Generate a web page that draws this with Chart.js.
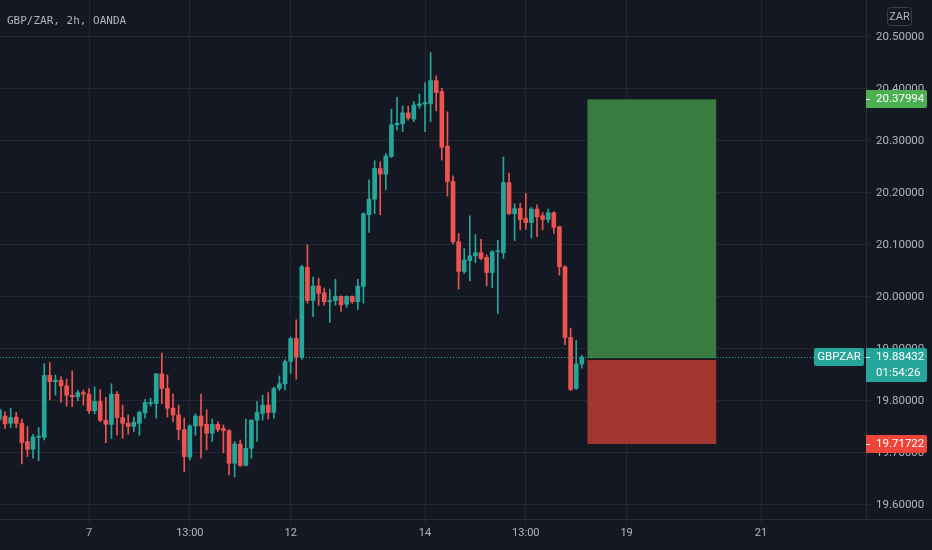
<!DOCTYPE html>
<html>
<head>
<meta charset="UTF-8" />
<title>GBP/ZAR, 2h, OANDA</title>
<script src="https://cdn.jsdelivr.net/npm/chart.js"></script>
<style>
  html, body { margin: 0; padding: 0; background: #141823; }
  canvas { display: block; }
</style>
</head>
<body>
<canvas id="chart" width="932" height="550"></canvas>
<script>
// 2h candles (index 0 = leftmost bar)
const opens = [
  19.765, 19.771, 19.757, 19.769, 19.757, 19.722, 19.707, 19.730, 19.730, 19.849,
  19.837, 19.840, 19.829, 19.811, 19.808, 19.816, 19.813, 19.781, 19.799, 19.763,
  19.755, 19.813, 19.768, 19.757, 19.751, 19.757, 19.777, 19.795, 19.795, 19.852,
  19.824, 19.786, 19.773, 19.745, 19.692, 19.752, 19.771, 19.755, 19.738, 19.755,
  19.747, 19.743, 19.680, 19.717, 19.676, 19.709, 19.763, 19.776, 19.792, 19.778,
  19.824, 19.833, 19.876, 19.920, 19.885, 20.057, 19.993, 20.021, 20.008, 19.991,
  19.993, 20.001, 19.986, 20.001, 19.991, 20.020, 20.158, 20.188, 20.247, 20.236,
  20.270, 20.331, 20.333, 20.354, 20.342, 20.368, 20.371, 20.372, 20.416, 20.395,
  20.290, 20.222, 20.106, 20.049, 20.070, 20.079, 20.085, 20.076, 20.047, 20.087,
  20.085, 20.220, 20.160, 20.170, 20.151, 20.143, 20.169, 20.156, 20.149, 20.162,
  20.135, 20.058, 19.922, 19.824, 19.871
];
const highs = [
  19.787, 19.779, 19.786, 19.778, 19.765, 19.751, 19.736, 19.749, 19.872, 19.874,
  19.850, 19.847, 19.842, 19.858, 19.821, 19.821, 19.824, 19.827, 19.822, 19.807,
  19.833, 19.818, 19.792, 19.773, 19.769, 19.781, 19.803, 19.805, 19.853, 19.892,
  19.850, 19.813, 19.792, 19.767, 19.754, 19.775, 19.813, 19.783, 19.765, 19.760,
  19.754, 19.745, 19.722, 19.725, 19.765, 19.764, 19.799, 19.811, 19.816, 19.827,
  19.848, 19.879, 19.923, 19.956, 20.061, 20.100, 20.038, 20.036, 20.017, 20.015,
  20.034, 20.002, 20.002, 20.002, 20.034, 20.162, 20.225, 20.262, 20.260, 20.276,
  20.361, 20.384, 20.367, 20.367, 20.376, 20.390, 20.412, 20.470, 20.425, 20.401,
  20.356, 20.233, 20.122, 20.093, 20.156, 20.120, 20.111, 20.081, 20.089, 20.109,
  20.269, 20.238, 20.179, 20.180, 20.199, 20.172, 20.177, 20.162, 20.169, 20.164,
  20.136, 20.060, 19.940, 19.916, 19.888
];
const lows = [
  19.760, 19.747, 19.749, 19.749, 19.679, 19.693, 19.690, 19.685, 19.725, 19.802,
  19.811, 19.797, 19.790, 19.789, 19.800, 19.792, 19.776, 19.775, 19.760, 19.720,
  19.728, 19.734, 19.728, 19.736, 19.741, 19.734, 19.767, 19.790, 19.767, 19.795,
  19.769, 19.760, 19.725, 19.664, 19.686, 19.734, 19.690, 19.706, 19.722, 19.741,
  19.700, 19.658, 19.654, 19.674, 19.675, 19.690, 19.722, 19.763, 19.765, 19.767,
  19.820, 19.821, 19.853, 19.842, 19.880, 19.988, 19.962, 19.984, 19.984, 19.951,
  19.984, 19.972, 19.980, 19.988, 19.976, 19.988, 20.124, 20.160, 20.158, 20.206,
  20.268, 20.321, 20.318, 20.340, 20.337, 20.363, 20.318, 20.337, 20.358, 20.263,
  20.194, 20.102, 20.015, 20.045, 20.031, 20.066, 20.071, 20.021, 20.018, 19.968,
  20.074, 20.158, 20.108, 20.129, 20.130, 20.113, 20.116, 20.129, 20.143, 20.122,
  20.042, 19.908, 19.820, 19.822, 19.863
];
const closes = [
  19.783, 19.756, 19.768, 19.757, 19.720, 19.707, 19.731, 19.732, 19.849, 19.837,
  19.840, 19.829, 19.811, 19.808, 19.816, 19.813, 19.781, 19.799, 19.763, 19.755,
  19.813, 19.768, 19.757, 19.751, 19.759, 19.778, 19.797, 19.797, 19.852, 19.824,
  19.786, 19.773, 19.745, 19.693, 19.752, 19.771, 19.752, 19.738, 19.755, 19.745,
  19.743, 19.680, 19.717, 19.676, 19.709, 19.763, 19.778, 19.792, 19.778, 19.824,
  19.833, 19.876, 19.920, 19.885, 20.058, 19.993, 20.021, 20.007, 19.991, 19.993,
  20.001, 19.985, 20.001, 19.991, 20.021, 20.160, 20.188, 20.247, 20.236, 20.271,
  20.331, 20.334, 20.354, 20.344, 20.369, 20.371, 20.374, 20.416, 20.393, 20.288,
  20.222, 20.106, 20.049, 20.071, 20.079, 20.085, 20.074, 20.047, 20.087, 20.088,
  20.220, 20.160, 20.170, 20.149, 20.143, 20.169, 20.154, 20.149, 20.162, 20.134,
  20.058, 19.922, 19.822, 19.871, 19.88432
];

// time axis labels and the bar index they sit on
const tickIndex = [16, 34, 52, 76, 94, 112, 136];
const tickLabels = ['7', '13:00', '12', '14', '13:00', '19', '21'];
const priceTicks = [19.6, 19.7, 19.8, 19.9, 20.0, 20.1, 20.2, 20.3, 20.4, 20.5];

// long position tool
const positionStart = 105;
const positionEnd = 128;
const entryPrice = 19.8805;
const targetPrice = 20.37994;
const stopPrice = 19.71722;
const countdown = '01:54:26';

const UP = '#26a69a';
const DOWN = '#ef5350';
const BG = '#141823';
const GRID = '#232732';
const TEXT = '#b2b5be';
const FONT = 'Roboto, "Noto Sans", sans-serif';

const colors = closes.map((c, i) => (c >= opens[i] ? UP : DOWN));
const wicks = closes.map((c, i) => ({ x: i, y: [lows[i], highs[i]] }));
const bodies = closes.map((c, i) => ({ x: i, y: [opens[i], c] }));

const overlay = {
  id: 'overlay',
  beforeDraw(chart) {
    const { ctx, width, height } = chart;
    ctx.save();
    ctx.fillStyle = BG;
    ctx.fillRect(0, 0, width, height);
    ctx.restore();
  },
  beforeDatasetsDraw(chart) {
    const { ctx, scales: { x, y } } = chart;
    const x0 = x.getPixelForValue(positionStart);
    const x1 = x.getPixelForValue(positionEnd);
    const yT = y.getPixelForValue(targetPrice);
    const yE = y.getPixelForValue(entryPrice);
    const yS = y.getPixelForValue(stopPrice);
    ctx.save();
    ctx.fillStyle = '#3a7b41';
    ctx.fillRect(x0, yT, x1 - x0, yE - yT);
    ctx.fillStyle = '#a3352f';
    ctx.fillRect(x0, yE, x1 - x0, yS - yE);
    ctx.strokeStyle = '#0a0c10';
    ctx.lineWidth = 1.5;
    ctx.beginPath();
    ctx.moveTo(x0, yE);
    ctx.lineTo(x1, yE);
    ctx.stroke();
    ctx.restore();
  },
  afterDatasetsDraw(chart) {
    const { ctx, chartArea, scales: { y } } = chart;
    const yl = Math.round(y.getPixelForValue(closes[closes.length - 1])) + 0.5;
    ctx.save();
    ctx.strokeStyle = UP;
    ctx.lineWidth = 1;
    ctx.setLineDash([1, 2]);
    ctx.beginPath();
    ctx.moveTo(chartArea.left, yl);
    ctx.lineTo(chartArea.right, yl);
    ctx.stroke();
    ctx.restore();
  },
  afterDraw(chart) {
    const { ctx, chartArea, width, scales: { y } } = chart;
    const left = chartArea.right;
    const right = left + 61;
    ctx.save();

    // bottom separator runs under the price scale too
    ctx.strokeStyle = '#2a2e39';
    ctx.lineWidth = 1;
    ctx.beginPath();
    ctx.moveTo(left, chartArea.bottom + 0.5);
    ctx.lineTo(width, chartArea.bottom + 0.5);
    ctx.stroke();

    function badge(yc, bg, lines) {
      const h = lines.length === 1 ? 18 : 34;
      const top = Math.round(yc - 9);
      ctx.fillStyle = bg;
      ctx.beginPath();
      ctx.roundRect(left, top, right - left, h, [0, 2, 2, 0]);
      ctx.fill();
      ctx.strokeStyle = '#ffffff';
      ctx.lineWidth = 1;
      ctx.beginPath();
      ctx.moveTo(left, top + 9.5);
      ctx.lineTo(left + 4, top + 9.5);
      ctx.stroke();
      ctx.fillStyle = '#ffffff';
      ctx.font = '11.5px ' + FONT;
      ctx.textAlign = 'left';
      ctx.textBaseline = 'middle';
      lines.forEach((t, k) => ctx.fillText(t, left + 10, top + 9.5 + k * 15.5));
    }

    const last = closes[closes.length - 1];
    badge(y.getPixelForValue(targetPrice), '#4caf50', [targetPrice.toFixed(5)]);
    badge(y.getPixelForValue(stopPrice), '#f0453b', [stopPrice.toFixed(5)]);
    const yLast = y.getPixelForValue(last);
    badge(yLast, UP, [last.toFixed(5), countdown]);

    // symbol tag left of the price scale
    ctx.fillStyle = UP;
    ctx.beginPath();
    ctx.roundRect(814, Math.round(yLast - 9), 50, 18, 2);
    ctx.fill();
    ctx.fillStyle = '#ffffff';
    ctx.font = '11.5px ' + FONT;
    ctx.textAlign = 'center';
    ctx.textBaseline = 'middle';
    ctx.fillText('GBPZAR', 839, Math.round(yLast) + 0.5);

    // currency button
    ctx.strokeStyle = '#3a3e4a';
    ctx.lineWidth = 1;
    ctx.beginPath();
    ctx.roundRect(887.5, 7.5, 24, 18, 3);
    ctx.stroke();
    ctx.fillStyle = TEXT;
    ctx.font = '11px ' + FONT;
    ctx.fillText('ZAR', 899.5, 17);

    // title
    ctx.fillStyle = TEXT;
    ctx.font = '11px "DejaVu Sans Mono", monospace';
    ctx.textAlign = 'left';
    ctx.fillText('GBP/ZAR, 2h, OANDA', 7, 21);
    ctx.restore();
  }
};

new Chart(document.getElementById('chart'), {
  type: 'bar',
  data: {
    datasets: [
      {
        label: 'bodies',
        data: bodies,
        backgroundColor: colors,
        barThickness: 4,
        minBarLength: 1,
        grouped: false,
        order: 0
      },
      {
        label: 'wicks',
        data: wicks,
        backgroundColor: colors,
        barThickness: 1,
        minBarLength: 1,
        grouped: false,
        order: 1
      }
    ]
  },
  options: {
    responsive: false,
    animation: false,
    layout: { padding: 0 },
    plugins: { legend: { display: false }, tooltip: { enabled: false } },
    scales: {
      x: {
        type: 'linear',
        min: 0.1,
        max: 154.75,
        offset: false,
        grid: { color: GRID, offset: false, tickLength: 5 },
        border: { display: true, color: '#2a2e39' },
        afterBuildTicks(scale) { scale.ticks = tickIndex.map(v => ({ value: v })); },
        afterFit(scale) { scale.height = 31; scale.paddingLeft = 0; scale.paddingRight = 0; },
        ticks: {
          color: TEXT,
          font: { family: FONT, size: 11 },
          padding: 3,
          maxRotation: 0,
          autoSkip: false,
          callback: v => tickLabels[tickIndex.indexOf(v)]
        }
      },
      y: {
        position: 'right',
        min: 19.573,
        max: 20.571,
        grid: { color: GRID, tickLength: 4 },
        border: { display: true, color: '#2a2e39' },
        afterBuildTicks(scale) { scale.ticks = priceTicks.map(v => ({ value: v })); },
        afterFit(scale) { scale.width = 66; scale.paddingTop = 0; scale.paddingBottom = 0; },
        ticks: {
          color: TEXT,
          font: { family: FONT, size: 11.5 },
          padding: 6,
          callback: v => v.toFixed(5)
        }
      }
    }
  },
  plugins: [overlay]
});
</script>
</body>
</html>
